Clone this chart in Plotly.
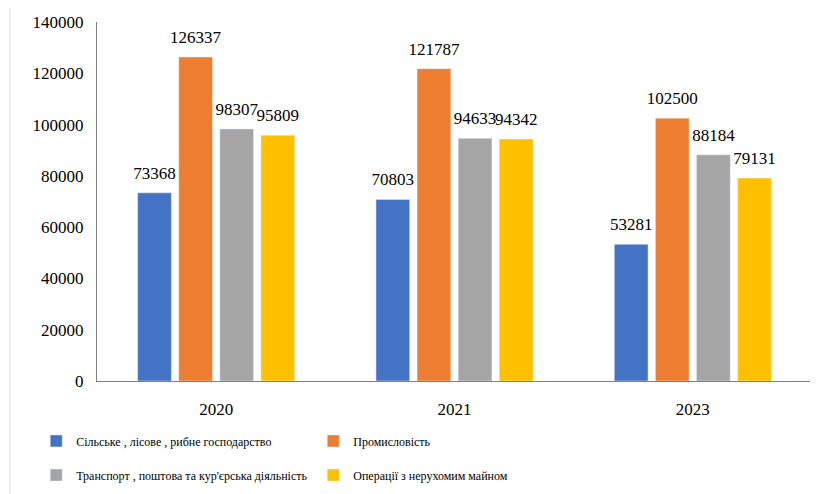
import plotly.graph_objects as go

years = ["2020", "2021", "2023"]
series_names = [
    "Сільське , лісове , рибне господарство",
    "Промисловість",
    "Транспорт , поштова та кур'єрська діяльність",
    "Операції з нерухомим майном",
]
agri = [73368, 70803, 53281]
industry = [126337, 121787, 102500]
transport = [98307, 94633, 88184]
realty = [95809, 94342, 79131]
colors = ["#4472C4", "#ED7D31", "#A5A5A5", "#FFC000"]
yticks = [0, 20000, 40000, 60000, 80000, 100000, 120000, 140000]

font = "Liberation Serif, Times New Roman, serif"
fig = go.Figure()
all_vals = [agri, industry, transport, realty]
for i, (name, vals, c) in enumerate(zip(series_names, all_vals, colors)):
    fig.add_trace(go.Bar(
        x=years, y=vals, name=name, marker_color=c,
        legend="legend" if i < 2 else "legend2",
    ))
for i, vals in enumerate(all_vals):
    fig.add_trace(go.Scatter(
        x=years, y=vals, mode="markers+text",
        text=[str(v) for v in vals], textposition="top center",
        textfont=dict(family=font, size=17, color="#000"),
        marker=dict(size=14, opacity=0),
        showlegend=False, hoverinfo="skip", cliponaxis=False,
    ))

W, H = 810, 486
fig.update_layout(
    width=W, height=H,
    margin=dict(l=89, r=6, t=14, b=113, autoexpand=False),
    paper_bgcolor="white", plot_bgcolor="white",
    barmode="group", bargap=0.31, bargroupgap=0.18,
    scattermode="group", scattergap=0.31,
    font=dict(family=font, size=17, color="#000"),
    showlegend=True,
    legend=dict(
        orientation="h", x=-0.085, y=-0.167, xanchor="left", yanchor="middle",
        font=dict(family=font, size=12, color="#000"),
        entrywidth=232, entrywidthmode="pixels",
    ),
    legend2=dict(
        orientation="h", x=-0.085, y=-0.262, xanchor="left", yanchor="middle",
        font=dict(family=font, size=12, color="#000"),
        entrywidth=232, entrywidthmode="pixels",
    ),
    xaxis=dict(
        showline=True, linecolor="#808080", linewidth=1,
        ticks="", tickfont=dict(family=font, size=17),
        ticklabelstandoff=13,
    ),
    yaxis=dict(
        range=[0, 140000], tickvals=yticks,
        ticktext=[str(v) for v in yticks],
        showline=True, linecolor="#808080", linewidth=1,
        showgrid=False, zeroline=False, ticks="",
        tickfont=dict(family=font, size=17),
        ticklabelstandoff=9,
    ),
    shapes=[dict(type="line", xref="paper", yref="paper",
                 x0=-0.122, x1=-0.122, y0=-0.32, y1=1.07,
                 line=dict(color="#d9d9d9", width=1))],
)
fig.write_html("out.html")
